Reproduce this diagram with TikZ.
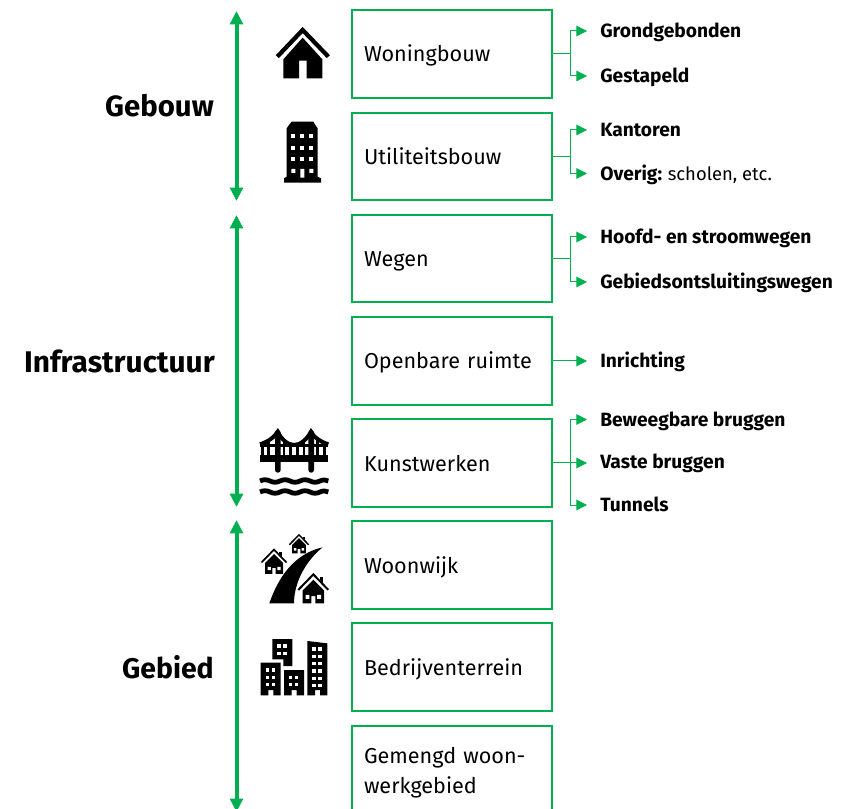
\documentclass[tikz,border=0pt]{standalone}
\usepackage{fontspec}
\setmainfont{Fira Sans}
\usetikzlibrary{arrows.meta}
\definecolor{grn}{HTML}{00B050}
\tikzset{
  boxnode/.style={draw=grn,line width=1.5pt,minimum width=150pt,minimum height=65.5pt,inner xsep=9pt,inner ysep=0pt,text width=132pt,align=left,font=\fontsize{16.2}{22.5}\selectfont,anchor=center},
  oneline/.style={text height=16pt,text depth=4pt},
  leafnode/.style={anchor=west,inner xsep=9.75pt,inner ysep=0pt,text height=13pt,text depth=3pt,font=\fontsize{14.4}{17}\selectfont},
  groupnode/.style={anchor=east,inner sep=0pt,font=\fontsize{22.4}{26}\bfseries\selectfont},
  bigarrow/.style={draw=grn,line width=3pt,{Triangle[length=10pt,width=9.5pt]}-{Triangle[length=10pt,width=9.5pt]}},
  branch/.style={draw=grn,line width=.75pt,-{Triangle[length=8pt,width=8pt]}},
  zoomed/.style={x=.25pt,y=-.25pt},
  win/.style={fill=white,draw=none}
}
\newcommand{\lilhouse}[4]{%
  \begin{scope}[shift={(#1,#2)},scale=#3]
    \fill (.42,.25) rectangle (.62,.75);
    \fill[white] (-1.1,1.15) -- (0,-.02) -- (1.1,1.15) -- cycle;
    \draw[line width=#4pt,miter limit=10] (-1,1.08) -- (0,.05) -- (1,1.08);
    \fill (-.72,1.12) -- (-.72,1.98) -- (-.13,1.98) -- (-.13,1.5) -- (.13,1.5) -- (.13,1.98) -- (.72,1.98) -- (.72,1.12) -- (0,.4) -- cycle;
    \fill[win] (-.52,1.42) rectangle (-.26,1.68) (.26,1.42) rectangle (.52,1.68);
  \end{scope}}
\begin{document}
\begin{tikzpicture}[x=.75pt,y=-.75pt]
\clip (0,0) rectangle (854,809);
\useasboundingbox (0,0) rectangle (854,809);
% boxes
\node[boxnode,oneline] (b1) at (452,54) {Woningbouw};
\node[boxnode,oneline] (b2) at (452,156.5) {Utiliteitsbouw};
\node[boxnode,oneline] (b3) at (452,258.5) {Wegen};
\node[boxnode,oneline] (b4) at (452,361) {Openbare ruimte};
\node[boxnode,oneline] (b5) at (452,463) {Kunstwerken};
\node[boxnode,oneline] (b6) at (452,565) {Woonwijk};
\node[boxnode,oneline] (b7) at (452,667) {Bedrijventerrein};
\node[boxnode,minimum height=70pt] (b8) at (452,773) {Gemengd woon-\\werkgebied};
% leaves
\node[leafnode] (l1) at (587,31) {\textbf{Grondgebonden}};
\node[leafnode] (l2) at (587,76) {\textbf{Gestapeld}};
\node[leafnode] (l3) at (587,130) {\textbf{Kantoren}};
\node[leafnode] (l4) at (587,173.5) {\textbf{Overig:}\hspace{-.8pt} {\fontsize{13.8}{17}\selectfont scholen, etc.}};
\node[leafnode] (l5) at (587,237) {\textbf{Hoofd- en stroomwegen}};
\node[leafnode] (l6) at (587,282) {\textbf{Gebiedsontsluitingswegen}};
\node[leafnode] (l7) at (587,361) {\textbf{Inrichting}};
\node[leafnode] (l8) at (587,419.5) {\textbf{Beweegbare bruggen}};
\node[leafnode] (l9) at (587,462) {\textbf{Vaste bruggen}};
\node[leafnode] (l10) at (587,505) {\textbf{Tunnels}};
% group labels
\node[groupnode,font=\fontsize{22}{26}\bfseries\selectfont] (g1) at (214,106) {Gebouw};
\node[groupnode] (g2) at (215,361) {Infrastructuur};
\node[groupnode,font=\fontsize{21.3}{26}\bfseries\selectfont] (g3) at (214,667) {Gebied};
% big arrows
\coordinate (a1) at (236.5,11); \coordinate (a2) at (236.5,201);
\coordinate (a3) at (236.5,215); \coordinate (a4) at (236.5,507);
\coordinate (a5) at (236.5,520); \coordinate (a6) at (236.5,812);
\draw[bigarrow] (a1) -- (a2);
\draw[bigarrow] (a3) -- (a4);
\draw[bigarrow] (a5) -- (a6);
% branches
\foreach \b/\l in {b1/l1,b1/l2,b2/l3,b2/l4,b3/l5,b3/l6,b5/l8,b5/l10}
  \draw[branch] (\b.east) -- ++(17.5,0) |- (\l.west);
\draw[branch] (b4.east) -- (l7.west);
\draw[branch] (b5.east) -- (b5.east -| l9.west);
% house
\begin{scope}[shift={(165pt,0pt)},zoomed]
  \draw[line width=3.2pt,miter limit=10] (172,170) -- (248,90) -- (325,170);
  \fill (190,178) -- (190,235) -- (237,235) -- (237,182) -- (260,182) -- (260,235) -- (307,235) -- (307,178) -- (248,113) -- cycle;
\end{scope}
% office tower
\begin{scope}[shift={(165pt,0pt)},zoomed]
  \fill (215,365) -- (280,365) -- (286,375) -- (293,385) -- (293,530) -- (303,535) -- (303,548) -- (192,548) -- (192,535) -- (200,530) -- (200,385) -- (207,375) -- cycle;
  \foreach \x in {214,241,268} \foreach \y in {402,437,472}
    \fill[win] (\x,\y) rectangle ++(12,12);
  \fill[win] (214,507) rectangle ++(12,12) (268,507) rectangle ++(12,12) (241,507) rectangle (253,533);
\end{scope}
% bridge
\begin{scope}[shift={(165pt,-307.5pt)},zoomed]
  \foreach \x in {128,146,192,212,232,252,292,314}
    \draw[line width=2.2pt] (\x,85) -- (\x,140);
  \fill[white] (115,40) -- (115,103) .. controls (145,95) and (165,80) .. (173,62) .. controls (185,90) and (205,105) .. (222,105) .. controls (240,105) and (260,90) .. (273,62) .. controls (280,80) and (300,95) .. (330,103) -- (330,40) -- cycle;
  \draw[line width=3pt] (120,103) .. controls (145,95) and (165,80) .. (173,65) .. controls (185,90) and (205,105) .. (222,105) .. controls (240,105) and (260,90) .. (273,65) .. controls (280,80) and (300,95) .. (325,103);
  \draw[line width=1.8pt] (120,106) -- (325,106);
  \fill (120,135) rectangle (325,155);
  \fill[rounded corners=2pt] (165,60) rectangle (182,188) (265,60) rectangle (282,188);
  \foreach \y in {213,246}
    \draw[line width=3.6pt] (120,\y) .. controls (130,\y-5) and (140,\y-5) .. (150,\y) .. controls (160,\y+5) and (170,\y+5) .. (180,\y) .. controls (190,\y-5) and (200,\y-5) .. (210,\y) .. controls (220,\y+5) and (230,\y+5) .. (240,\y) .. controls (250,\y-5) and (260,\y-5) .. (270,\y) .. controls (280,\y+5) and (290,\y+5) .. (300,\y) .. controls (310,\y-5) and (318,\y-3) .. (325,\y);
\end{scope}
% neighbourhood
\begin{scope}[shift={(165pt,-307.5pt)},zoomed]
  \fill (148,580) .. controls (175,500) and (225,430) .. (308,412) .. controls (260,450) and (222,515) .. (222,580) -- cycle;
  \lilhouse{162}{417}{37.5}{1.3}
  \lilhouse{237}{373}{29}{1.1}
  \lilhouse{280}{491}{45}{1.5}
\end{scope}
% business park
\begin{scope}[shift={(165pt,-465pt)},zoomed]
  \fill (157,57) -- (217,57) -- (217,138) -- (190,138) -- (190,118) -- (157,118) -- cycle;
  \fill (122,128) -- (182,128) -- (182,226) -- (160,226) -- (160,210) -- (145,210) -- (145,226) -- (122,226) -- cycle;
  \fill (192,150) -- (252,150) -- (252,226) -- (230,226) -- (230,210) -- (215,210) -- (215,226) -- (192,226) -- cycle;
  \fill (262,63) -- (322,70) -- (322,226) -- (300,226) -- (300,210) -- (285,210) -- (285,226) -- (262,226) -- cycle;
  \foreach \x in {172,190} \foreach \y in {73,95} \fill[win] (\x,\y) rectangle ++(10,10);
  \foreach \x in {137,155} \foreach \y in {145,167,188} \fill[win] (\x,\y) rectangle ++(10,10);
  \foreach \x in {207,225} \foreach \y in {167,188} \fill[win] (\x,\y) rectangle ++(10,10);
  \foreach \x in {277,295} \foreach \y in {82,104,126,148,170,191} \fill[win] (\x,\y) rectangle ++(10,10);
\end{scope}
\end{tikzpicture}
\end{document}
